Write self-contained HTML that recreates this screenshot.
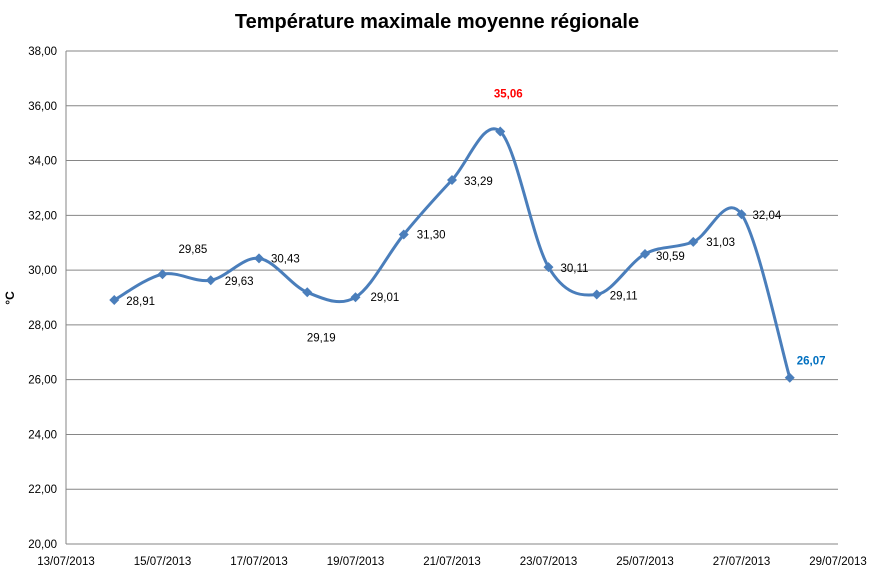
<!DOCTYPE html>
<html><head><meta charset="utf-8"><style>
body{margin:0;background:#fff;}
svg{display:block;font-family:"Liberation Sans",sans-serif;}
</style></head><body>
<svg id="chart" width="877" height="573">
<text x="437" y="28" text-anchor="middle" font-size="20" font-weight="bold" fill="#000">Température maximale moyenne régionale</text>
<text x="14" y="298" font-size="12" font-weight="bold" text-anchor="middle" transform="rotate(-90 14 298)">°C</text>
<g id="grid"></g><g id="axes"></g><g id="series"></g><g id="labels"></g>
</svg>
<script>
const days = [14,15,16,17,18,19,20,21,22,23,24,25,26,27,28];
const values = [28.91,29.85,29.63,30.43,29.19,29.01,31.30,33.29,35.06,30.11,29.11,30.59,31.03,32.04,26.07];
const yTicks = [20,22,24,26,28,30,32,34,36,38];
const xTicks = [13,15,17,19,21,23,25,27,29];
const labelOffsets = [[12,1],[16,-25],[14,1],[12,0],[14,45],[15,0],[13,0],[12,1],[8,-38],[12,1],[13,1],[11,2],[13,0],[11,1],[7,-17]];

const svg=document.getElementById('chart'),NS='http://www.w3.org/2000/svg';
const L=66,R=838,T=51,B=544;
const x=d=>L+(d-13)/16*(R-L);
const y=v=>B-(v-20)/18*(B-T);
function mk(tag,attrs,parent){const e=document.createElementNS(NS,tag);for(const k in attrs)e.setAttribute(k,attrs[k]);parent.appendChild(e);return e;}
const grid=document.getElementById('grid'),axes=document.getElementById('axes'),ser=document.getElementById('series'),lab=document.getElementById('labels');
yTicks.forEach(t=>{
  const l=mk('line',{x1:L,x2:R,y1:y(t),y2:y(t),stroke:'#868686','stroke-width':1},grid);
  
  
  const tx=mk('text',{x:L-9,y:y(t)+4,'text-anchor':'end','font-size':11.5},axes);
  tx.textContent=t.toFixed(2).replace('.',',');
  
  
});
const ya=mk('line',{x1:L,x2:L,y1:T,y2:B,stroke:'#868686'},axes);


xTicks.forEach(d=>{
  const tx=mk('text',{x:x(d),y:565,'text-anchor':'middle','font-size':11.5},axes);
  tx.textContent=String(d).padStart(2,'0')+'/07/2013';
  
  
});
const pts=days.map((d,i)=>[x(d),y(values[i])]);
let p='M'+pts[0][0]+','+pts[0][1];
for(let i=0;i<pts.length-1;i++){
  const p0=pts[Math.max(0,i-1)],p1=pts[i],p2=pts[i+1],p3=pts[Math.min(pts.length-1,i+2)];
  const k=1/6;
  p+=' C'+(p1[0]+(p2[0]-p0[0])*k)+','+(p1[1]+(p2[1]-p0[1])*k)+' '+(p2[0]-(p3[0]-p1[0])*k)+','+(p2[1]-(p3[1]-p1[1])*k)+' '+p2[0]+','+p2[1];
}
const line=mk('path',{d:p,fill:'none',stroke:'#4a7ebb','stroke-width':3},ser);


pts.forEach((q,i)=>{
  const m=mk('path',{d:`M${q[0]},${q[1]-5}L${q[0]+5},${q[1]}L${q[0]},${q[1]+5}L${q[0]-5},${q[1]}Z`,fill:'#4a7ebb'},ser);
  
  
  const o=labelOffsets[i];
  let color='#000',weight='normal';
  if(i===8){color='#ff0000';weight='bold';}
  if(i===14){color='#0070c0';weight='bold';}
  const tx=mk('text',{x:q[0]+o[0],y:q[1]+o[1]+4,'font-size':11.5,fill:color,'font-weight':weight,'text-anchor':(i===4||i===8)?'middle':'start'},lab);
  tx.textContent=values[i].toFixed(2).replace('.',',');
  
  
});
</script>
</body></html>
